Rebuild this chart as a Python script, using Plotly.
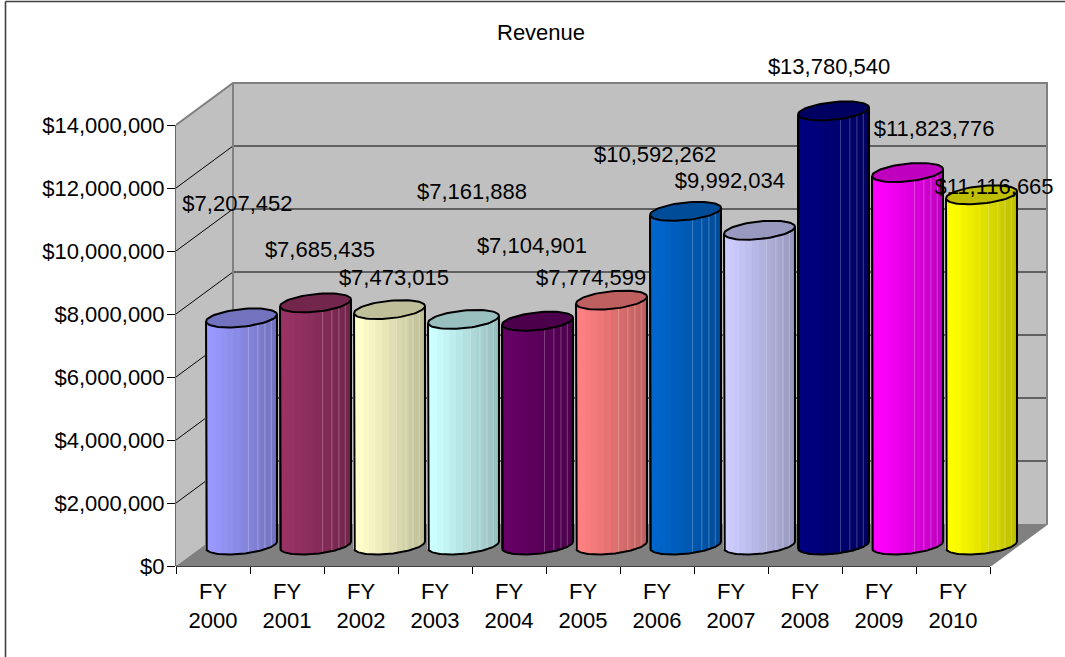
import numpy as np
import plotly.graph_objects as go

categories = ["FY 2000", "FY 2001", "FY 2002", "FY 2003", "FY 2004", "FY 2005",
              "FY 2006", "FY 2007", "FY 2008", "FY 2009", "FY 2010"]
tick_text = ["FY<br>2000", "FY<br>2001", "FY<br>2002", "FY<br>2003", "FY<br>2004", "FY<br>2005",
             "FY<br>2006", "FY<br>2007", "FY<br>2008", "FY<br>2009", "FY<br>2010"]
revenue = [7207452, 7685435, 7473015, 7161888, 7104901, 7774599,
           10592262, 9992034, 13780540, 11823776, 11116665]
colors = ["#9999FF", "#993366", "#FFFFCC", "#CCFFFF", "#660066", "#FF8080",
          "#0066CC", "#CCCCFF", "#000080", "#FF00FF", "#FFFF00"]
value_ticks = [0, 2000000, 4000000, 6000000, 8000000, 10000000, 12000000, 14000000]
# data-label anchors, in axis units
label_x = [0.83, 1.945, 2.945, 4.0, 4.81, 5.61, 6.475, 7.485, 8.825, 10.245, 11.055]
label_y = [11.46e6, 10.0e6, 9.08e6, 11.84e6, 10.1e6, 9.08e6, 13.0e6, 12.16e6, 15.78e6, 13.84e6, 11.97e6]

W, H = 1065, 657
L, R_M, T, B = 176, 7, 40, 91
PX_X = 74.0
PX_Y = 31.5 / 1e6
X_MAX = (W - L - R_M) / PX_X
Y_MAX = (H - T - B) / PX_Y
DX = 57 / PX_X
DY = 42 / PX_Y
NCAT = len(categories)
TOP = value_ticks[-1]
FONT = "Liberation Sans, Arial, sans-serif"
FS = 22

# cylinder cross-section
RAD = 33 / PX_X
SHX = 13 / PX_X
SHY = 9.5 / PX_Y
N_FACET = 16
T0 = np.arctan2(SHX, RAD)


def rgb(h):
    return [int(h[i:i + 2], 16) for i in (1, 3, 5)]


def scaled(h, f):
    r, g, b = rgb(h)
    return f"rgb({int(r * f)},{int(g * f)},{int(b * f)})"


def ring(cx, cy, t):
    return cx + RAD * np.cos(t) + SHX * np.sin(t), cy + SHY * np.sin(t)


fig = go.Figure()
base_c = DY / 2
half_w = np.hypot(RAD, SHX)
facet_fracs = [0.60, 0.73, 0.83, 0.92]

for i, (v, col) in enumerate(zip(revenue, colors)):
    cx = i + 0.5 + DX / 2
    edges = np.linspace(T0 - np.pi, T0, N_FACET + 1)
    ex, _ = ring(cx, base_c, edges)
    mids = (edges[:-1] + edges[1:]) / 2
    mx, my = ring(cx, base_c, mids)
    frac = (mx - (cx - half_w)) / (2 * half_w)
    shades = 1 - 0.28 * np.clip(frac - 0.08, 0, 1) ** 1.1
    fig.add_trace(go.Bar(
        x=mx, y=[v] * N_FACET, base=my, width=np.diff(ex) + 1.2 / PX_X,
        marker=dict(color=[scaled(col, s) for s in shades], line=dict(width=0)),
        showlegend=False, hoverinfo="skip", name=categories[i],
    ))

    # facet highlights
    tt = np.linspace(T0 - np.pi, T0, 80)
    ax, ay = ring(cx, base_c, tt)
    lx, ly = [], []
    for f in facet_fracs:
        px = cx - half_w + 2 * half_w * f
        py = float(np.interp(px, ax, ay))
        lx += [px, px, None]
        ly += [py, py + v, None]
    fig.add_trace(go.Scatter(x=lx, y=ly, mode="lines", line=dict(color="rgba(255,255,255,0.25)", width=1),
                             showlegend=False, hoverinfo="skip"))

    # silhouette of the body
    sx = [ax[0]] + list(ax) + [ax[-1]]
    sy = [ay[0] + v] + list(ay) + [ay[-1] + v]
    fig.add_trace(go.Scatter(x=sx, y=sy, mode="lines", line=dict(color="#000000", width=2),
                             showlegend=False, hoverinfo="skip"))

    # top cap
    tc = np.linspace(0, 2 * np.pi, 73)
    cxs, cys = ring(cx, base_c + v, tc)
    fig.add_trace(go.Scatter(x=cxs, y=cys, mode="lines", fill="toself", fillcolor=scaled(col, 0.75),
                             line=dict(color="#000000", width=2),
                             showlegend=False, hoverinfo="skip"))

fig.add_trace(go.Scatter(
    x=label_x, y=label_y, mode="text",
    text=[f"${v:,}" for v in revenue],
    textposition="middle center",
    textfont=dict(family=FONT, size=FS, color="#000000"),
    cliponaxis=False, showlegend=False, hoverinfo="skip",
))


def poly(pts, close=True):
    s = "M " + " L ".join(f"{x},{y}" for x, y in pts)
    return s + (" Z" if close else "")


shapes = [
    dict(type="path", layer="below", xref="x", yref="y", line=dict(width=0), fillcolor="#C0C0C0",
         path=poly([(DX, DY), (NCAT + DX, DY), (NCAT + DX, TOP + DY), (DX, TOP + DY)])),
    dict(type="path", layer="below", xref="x", yref="y", line=dict(width=0), fillcolor="#C0C0C0",
         path=poly([(0, 0), (DX, DY), (DX, TOP + DY), (0, TOP)])),
    dict(type="path", layer="below", xref="x", yref="y", line=dict(width=0), fillcolor="#808080",
         path=poly([(0, 0), (NCAT, 0), (NCAT + DX, DY), (DX, DY)])),
]
for v in value_ticks[1:-1]:
    shapes.append(dict(type="path", layer="below", xref="x", yref="y",
                       line=dict(color="#000000", width=1),
                       path=poly([(0, v), (DX, v + DY), (NCAT + DX, v + DY)], close=False)))
shapes.append(dict(type="path", layer="below", xref="x", yref="y", line=dict(color="#808080", width=2),
                   path=poly([(0, TOP), (DX, TOP + DY), (NCAT + DX, TOP + DY), (NCAT + DX, DY), (NCAT, 0)], close=False)))
shapes.append(dict(type="line", layer="below", xref="x", yref="y", x0=DX, x1=DX, y0=DY, y1=TOP + DY,
                   line=dict(color="#808080", width=2)))
# front axis lines
shapes.append(dict(type="line", layer="below", xref="paper", yref="y", x0=0, x1=0, y0=0, y1=TOP,
                   line=dict(color="#000000", width=1.2)))
shapes.append(dict(type="line", layer="below", xref="x", yref="paper", x0=0, x1=NCAT, y0=0, y1=0,
                   line=dict(color="#000000", width=1.6)))
# chart frame (left and top edges)
pw, ph = W - L - R_M, H - T - B
fx = (5.5 - L) / pw
fy = 1 - (1.5 - T) / ph
shapes.append(dict(type="line", xref="paper", yref="paper", x0=fx, x1=fx, y0=fy, y1=-(H - T - ph) / ph,
                   line=dict(color="#404040", width=1.6)))
shapes.append(dict(type="line", xref="paper", yref="paper", x0=fx, x1=(W - L) / pw, y0=fy, y1=fy,
                   line=dict(color="#404040", width=1.6)))

fig.update_layout(
    width=W, height=H, autosize=False,
    margin=dict(l=L, r=R_M, t=T, b=B, pad=0),
    paper_bgcolor="#FFFFFF", plot_bgcolor="rgba(0,0,0,0)",
    barmode="overlay", showlegend=False, shapes=shapes,
    annotations=[dict(text="Revenue", xref="paper", yref="paper",
                      x=(541 - L) / pw, y=1 - (33 - T) / ph, showarrow=False,
                      xanchor="center", yanchor="middle",
                      font=dict(family=FONT, size=FS, color="#000000"))],
    xaxis=dict(range=[0, X_MAX], tickmode="array",
               tickvals=[i + 0.5 for i in range(NCAT)], ticktext=tick_text,
               ticks="", showgrid=False, zeroline=False, showline=False,
               ticklabelstandoff=10, automargin=False,
               tickfont=dict(family=FONT, size=FS, color="#000000"),
               minor=dict(tickmode="array", tickvals=list(range(NCAT + 1)), ticks="outside",
                          ticklen=7, tickwidth=1, tickcolor="#000000", showgrid=False)),
    yaxis=dict(range=[0, Y_MAX], tickmode="array", tickvals=value_ticks,
               ticktext=[f"${v:,}" for v in value_ticks],
               ticks="outside", ticklen=8, tickwidth=1, tickcolor="#000000",
               ticklabelstandoff=-2,
               showgrid=False, zeroline=False, showline=False, automargin=False,
               tickfont=dict(family=FONT, size=FS, color="#000000")),
)

fig.write_html("out.html", config={"displayModeBar": False},
               post_script="document.body.style.margin='0';")
